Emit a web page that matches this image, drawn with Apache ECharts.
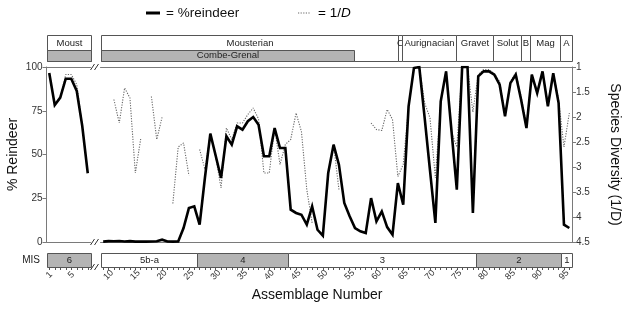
<!DOCTYPE html>
<html><head><meta charset="utf-8">
<script src="https://cdn.jsdelivr.net/npm/echarts@6/dist/echarts.min.js"></script>
<style>html,body{margin:0;padding:0;background:#fff}#c{width:630px;height:310px}</style>
</head><body><div id="c"></div>
<script>
// ---------------- data ----------------
const assemblages = [1,2,3,4,5,6,7,8,9,10,11,12,13,14,15,16,17,18,19,20,21,22,23,24,25,26,27,28,29,30,
  31,32,33,34,35,36,37,38,39,40,41,42,43,44,45,46,47,48,49,50,51,52,53,54,55,56,57,58,59,60,
  61,62,63,64,65,66,67,68,69,70,71,72,73,74,75,76,77,78,79,80,81,82,83,84,85,86,87,88,89,90,
  91,92,93,94,95,96];
const breakAfter = 8; // axis break between assemblage 8 and 9
const reindeerPct = [96.6,78.3,82.5,93.3,93.3,86.3,66.3,39.3,
  0.2,0.5,0.4,0.6,0.3,0.5,0.2,0.3,0.2,0.3,0.4,1.3,0.3,0.2,0.3,8.0,19.4,20.4,9.9,37.0,61.9,49.3,
  36.6,60.4,55.6,66.1,64.2,69.0,71.4,67.0,49.0,49.0,65.1,53.7,53.7,18.5,16.6,15.6,9.9,20.4,7.0,3.6,
  39.4,55.6,44.2,22.3,14.7,8.0,6.1,5.1,25.1,11.8,17.5,8.5,4.2,33.7,21.3,77.5,99.4,100,70.9,40.8,
  10.9,80.4,97.5,63.8,29.9,100,100,16.6,94.7,97.5,97.5,95.6,89.9,71.8,90.8,95.6,81.3,65.1,95.6,85.1,
  97.5,77.5,96.4,79.4,9.9,8.0];
const inverseD = [1.12,1.76,1.62,1.15,1.15,1.35,2.18,3.12,
  null,null,1.65,2.12,1.42,1.62,3.12,2.44,null,1.59,2.45,2.0,null,3.73,2.6,2.52,3.17,null,2.65,3.05,2.33,2.8,
  3.42,2.22,2.45,2.12,2.12,1.95,1.82,2.04,3.12,3.12,2.22,2.95,2.55,2.45,1.92,2.29,3.45,4.12,null,null,
  null,2.55,3.45,null,null,null,null,null,2.12,2.25,2.27,1.85,2.05,3.19,2.95,1.79,1.0,1.0,1.72,2.02,
  3.22,1.7,1.07,2.3,2.6,1.0,1.0,1.9,1.15,1.05,1.05,1.13,1.29,1.95,1.29,1.11,1.59,2.15,1.15,1.49,
  1.11,1.72,1.12,1.65,2.6,1.92];
const xTickLabels = ['1','5','10','15','20','25','30','35','40','45','50','55','60','65','70','75','80','85','90','95'];
const pctTicks = [0,25,50,75,100];
const diversityTicks = [1,1.5,2,2.5,3,3.5,4,4.5];

// cultural periods (boundaries in assemblage units)
const cultureNames = ['Moust','Mousterian','C','Aurignacian','Gravet','Solut','B','Mag','A'];
const cultureStart = [0.5, 8.5, 63.95, 64.7, 74.8, 81.8, 86.9, 88.7, 94.2];
const cultureEnd   = [8.5, 63.95, 64.7, 74.8, 81.8, 86.9, 88.7, 94.2, 96.5];
const siteNames = ['', 'Combe-Grenal'];
const siteStart = [0.5, 8.5];
const siteEnd   = [8.5, 55.8];
const misNames = ['6','5b-a','4','3','2','1'];
const misStart = [0.5, 8.5, 26.5, 43.5, 78.5, 94.5];
const misEnd   = [8.5, 26.5, 43.5, 78.5, 94.5, 96.5];
const misShaded = [true,false,true,false,true,false];

// ---------------- chart ----------------
const FONT = '"Liberation Sans", Arial, sans-serif';
const AX = '#7a7a7a';
const GRAY = '#b4b4b4';
const chart = echarts.init(document.getElementById('c'));

const leftIdx = assemblages.map((a,i)=>i).filter(i=>assemblages[i] <= breakAfter);
const rightIdx = assemblages.map((a,i)=>i).filter(i=>assemblages[i] > breakAfter);
const pts = (idx, arr) => idx.map(i => [assemblages[i], arr[i]]);

const leftMin = 0.5, leftMax = breakAfter + 0.5;
const rightMin = breakAfter + 0.5, rightMax = assemblages[assemblages.length-1] + 0.5;

function inGrid(seg, g) {
  return g === 0 ? seg[1] <= leftMax + 1e-6 : seg[0] >= rightMin - 1e-6;
}
function segData(starts, ends, g) {
  const out = [];
  starts.forEach((s,i)=>{ if (inGrid([s,ends[i]], g)) out.push([s, ends[i], i]); });
  return out;
}
const crisp = v => Math.round(v) + 0.5;

function boxRenderer(kind) {
  return function(params, api) {
    const i = api.value(2);
    const x0 = crisp(api.coord([api.value(0), 0])[0]);
    const x1 = crisp(api.coord([api.value(1), 0])[0]);
    const top = api.coord([api.value(0), 100])[1];
    const bot = api.coord([api.value(0), 0])[1];
    let y0, y1, name, fill, ty;
    if (kind === 'culture') { y0 = crisp(top - 32); y1 = crisp(top - 6); name = cultureNames[i]; fill = '#fff'; ty = top - 24; }
    else if (kind === 'site') { y0 = crisp(top - 17); y1 = crisp(top - 6); name = siteNames[i]; fill = GRAY; ty = top - 11.5; }
    else { y0 = crisp(bot + 11); y1 = crisp(bot + 25); name = misNames[i]; fill = misShaded[i] ? GRAY : '#fff'; ty = bot + 18; }
    return { type: 'group', children: [
      { type: 'rect', shape: { x: x0, y: y0, width: x1 - x0, height: y1 - y0 },
        style: { fill: fill, stroke: '#555', lineWidth: 1 } },
      { type: 'text', style: { text: name, x: (x0 + x1) / 2, y: ty, align: 'center', verticalAlign: 'middle',
        fill: '#222', font: '9.5px ' + FONT } }
    ]};
  };
}

const grids = [
  { left: 46.5, top: 67, width: 44, height: 175 },
  { left: 100.5, top: 67, width: 484.5, height: 175 }
];

const xAxes = [];
const catLabelAxis = (g, cats) => ({
  type: 'category', gridIndex: g, position: 'bottom', offset: 25, data: cats, boundaryGap: true,
  axisLine: { show: false },
  axisTick: { show: true, interval: 0, alignWithLabel: true, length: 3, lineStyle: { color: '#555' } },
  axisLabel: { interval: (idx, val) => xTickLabels.indexOf(val) >= 0, rotate: 45, align: 'center',
    verticalAlign: 'middle', margin: 8, fontSize: 9, color: '#333', fontFamily: FONT },
  splitLine: { show: false }
});
[[leftMin,leftMax],[rightMin,rightMax]].forEach((r,g)=>{
  xAxes.push({ type: 'value', gridIndex: g, min: r[0], max: r[1], position: 'bottom',
    axisLine: { show: true, lineStyle: { color: AX } }, axisTick: { show: false }, axisLabel: { show: false }, splitLine: { show: false } });
});
[[leftMin,leftMax],[rightMin,rightMax]].forEach((r,g)=>{
  xAxes.push({ type: 'value', gridIndex: g, min: r[0], max: r[1], position: 'top',
    axisLine: { show: true, lineStyle: { color: AX } }, axisTick: { show: false }, axisLabel: { show: false }, splitLine: { show: false } });
});
xAxes.push(catLabelAxis(0, leftIdx.map(i => String(assemblages[i]))));
xAxes.push(catLabelAxis(1, rightIdx.map(i => String(assemblages[i]))));

const yAxes = [
  { type: 'value', gridIndex: 0, min: pctTicks[0], max: pctTicks[pctTicks.length-1], interval: pctTicks[1]-pctTicks[0], position: 'left',
    axisLine: { show: true, lineStyle: { color: AX } }, axisTick: { show: true, length: 4, lineStyle: { color: AX } },
    axisLabel: { fontSize: 10, color: '#333', margin: 4, fontFamily: FONT }, splitLine: { show: false },
    name: '% Reindeer', nameLocation: 'middle', nameGap: 26, nameTextStyle: { fontSize: 14, color: '#111', fontFamily: FONT } },
  { type: 'value', gridIndex: 0, min: 1, max: 4.5, inverse: true, show: false },
  { type: 'value', gridIndex: 1, min: 0, max: 100, show: false },
  { type: 'value', gridIndex: 1, min: diversityTicks[0], max: diversityTicks[diversityTicks.length-1], interval: 0.5, inverse: true, position: 'right',
    axisLine: { show: true, lineStyle: { color: AX } }, axisTick: { show: true, length: 4, lineStyle: { color: AX } },
    axisLabel: { fontSize: 10, color: '#333', margin: 4, fontFamily: FONT }, splitLine: { show: false },
    name: 'Species Diversity (1/D)', nameLocation: 'middle', nameRotate: -90, nameGap: 36,
    nameTextStyle: { fontSize: 14, color: '#111', fontFamily: FONT } }
];

const solidStyle = { color: '#000', width: 2.6, join: 'miter', miterLimit: 4 };
const dotStyle = { color: '#666', width: 1.1, type: [1.2, 1.4] };
const series = [
  { type: 'line', name: '1/D', xAxisIndex: 0, yAxisIndex: 1, data: pts(leftIdx, inverseD), showSymbol: false, symbol: 'none', lineStyle: dotStyle, z: 2, connectNulls: false },
  { type: 'line', name: '1/D', xAxisIndex: 1, yAxisIndex: 3, data: pts(rightIdx, inverseD), showSymbol: false, symbol: 'none', lineStyle: dotStyle, z: 2, connectNulls: false },
  { type: 'line', name: '%reindeer', xAxisIndex: 0, yAxisIndex: 0, data: pts(leftIdx, reindeerPct), showSymbol: false, symbol: 'none', lineStyle: solidStyle, z: 3 },
  { type: 'line', name: '%reindeer', xAxisIndex: 1, yAxisIndex: 2, data: pts(rightIdx, reindeerPct), showSymbol: false, symbol: 'none', lineStyle: solidStyle, z: 3 }
];
[0,1].forEach(g => {
  const yi = g === 0 ? 0 : 2;
  series.push({ type: 'custom', xAxisIndex: g, yAxisIndex: yi, clip: false, z: 1, encode: { x: [0,1] },
    renderItem: boxRenderer('culture'), data: segData(cultureStart, cultureEnd, g) });
  series.push({ type: 'custom', xAxisIndex: g, yAxisIndex: yi, clip: false, z: 1, encode: { x: [0,1] },
    renderItem: boxRenderer('site'), data: segData(siteStart, siteEnd, g) });
  series.push({ type: 'custom', xAxisIndex: g, yAxisIndex: yi, clip: false, z: 1, encode: { x: [0,1] },
    renderItem: boxRenderer('mis'), data: segData(misStart, misEnd, g) });
});

function breakMark(cx, cy) {
  return [
    { type: 'line', shape: { x1: cx - 5, y1: cy + 3, x2: cx - 1, y2: cy - 3 }, style: { stroke: '#333', lineWidth: 1 } },
    { type: 'line', shape: { x1: cx - 1, y1: cy + 3, x2: cx + 3, y2: cy - 3 }, style: { stroke: '#333', lineWidth: 1 } }
  ];
}
const bx = 95.5;
const graphic = [
  { type: 'line', shape: { x1: 146, y1: 13, x2: 160, y2: 13 }, style: { stroke: '#000', lineWidth: 3 } },
  { type: 'text', style: { text: '= %reindeer', x: 166, y: 13, verticalAlign: 'middle', font: '13.5px ' + FONT, fill: '#111' } },
  { type: 'line', shape: { x1: 298, y1: 13, x2: 311, y2: 13 }, style: { stroke: '#666', lineWidth: 1.1, lineDash: [1.2, 1.4] } },
  { type: 'text', style: { text: '{a|= 1/}{b|D}', x: 318, y: 13, verticalAlign: 'middle',
      rich: { a: { fontSize: 13.5, fontFamily: FONT, color: '#111' }, b: { fontSize: 13.5, fontStyle: 'italic', fontFamily: FONT, color: '#111' } } } },
  { type: 'text', style: { text: 'MIS', x: 40, y: 260, align: 'right', verticalAlign: 'middle', font: '10px ' + FONT, fill: '#222' } },
  { type: 'text', style: { text: 'Assemblage Number', x: 317, y: 295, align: 'center', verticalAlign: 'middle', font: '14px ' + FONT, fill: '#111' } }
].concat(breakMark(bx, 67), breakMark(bx, 242), breakMark(bx, 267));

chart.setOption({
  animation: false,
  backgroundColor: '#fff',
  grid: grids,
  xAxis: xAxes,
  yAxis: yAxes,
  series: series,
  graphic: graphic
});
</script></body></html>
